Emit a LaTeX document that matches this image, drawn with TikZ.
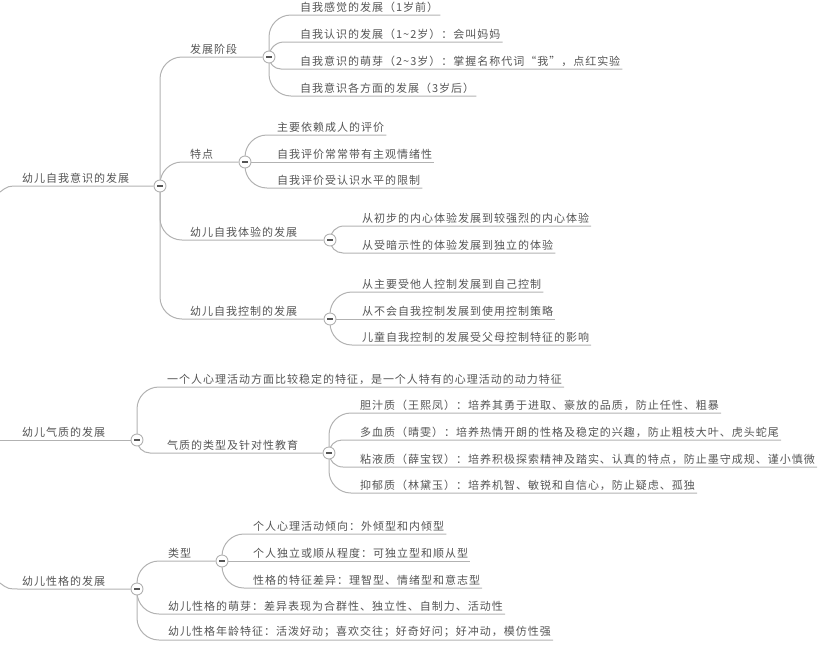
\documentclass[tikz,border=0pt]{standalone}
\usepackage{fontspec}
\newfontfamily\cjk[LetterSpace=9]{Noto Sans CJK SC}
\usetikzlibrary{backgrounds,calc}
\definecolor{linegray}{RGB}{178,178,178}
\definecolor{textgray}{RGB}{85,85,85}

\begin{document}
\begin{tikzpicture}[x=1pt,y=-1pt,
    topic/.style={anchor=south west,inner xsep=2pt,inner ysep=2.5pt,text=textgray,font=\cjk\fontsize{11}{13}\selectfont},
    fold/.style={circle,draw=linegray,fill=white,line width=0.9pt,minimum size=12pt,inner sep=0pt,
      path picture={\draw[textgray,line width=1.3pt] ([xshift=-3pt]path picture bounding box.center) -- ([xshift=3pt]path picture bounding box.center);}},
    line/.style={draw=linegray,line width=1pt},
    branch/.style={to path={let \p1=(\tikztostart), \p2=(\tikztotarget), \n1={min(abs(\y2-\y1),22pt)} in (\p1) [rounded corners=\n1] |- (\tikztotarget)}}]
          \useasboundingbox (0,0) rectangle (820,646);
          % 幼儿自我意识的发展
          \node[topic] (t1) at (20,186) {幼儿自我意识的发展};
          \node[fold] (r1) at (160,186) {};
          \node[topic] (t11) at (188,57) {发展阶段};
          \node[fold] (m11) at (269,57) {};
          \node[topic] (a1) at (298,15) {自我感觉的发展（1岁前）};
          \node[topic] (a2) at (298,42) {自我认识的发展（1\textasciitilde 2岁）：会叫妈妈};
          \node[topic] (a3) at (298,69) {自我意识的萌芽（2\textasciitilde 3岁）：掌握名称代词“我”，点红实验};
          \node[topic] (a4) at (298,96) {自我意识各方面的发展（3岁后）};
          \node[topic] (t12) at (188,162) {特点};
          \node[fold] (m12) at (245,162) {};
          \node[topic] (b1) at (275,135) {主要依赖成人的评价};
          \node[topic] (b2) at (275,162) {自我评价常常带有主观情绪性};
          \node[topic] (b3) at (275,188) {自我评价受认识水平的限制};
          \node[topic] (t13) at (188,240) {幼儿自我体验的发展};
          \node[fold] (m13) at (330,240) {};
          \node[topic] (c1) at (360,226) {从初步的内心体验发展到较强烈的内心体验};
          \node[topic] (c2) at (360,253) {从受暗示性的体验发展到独立的体验};
          \node[topic] (t14) at (188,319) {幼儿自我控制的发展};
          \node[fold] (m14) at (330,319) {};
          \node[topic] (d1) at (360,292) {从主要受他人控制发展到自己控制};
          \node[topic] (d2) at (360,319) {从不会自我控制发展到使用控制策略};
          \node[topic] (d3) at (360,345) {儿童自我控制的发展受父母控制特征的影响};
          % 幼儿气质的发展
          \node[topic] (t2) at (20,440) {幼儿气质的发展};
          \node[fold] (r2) at (137,440) {};
          \node[topic] (t21) at (165,387) {一个人心理活动方面比较稳定的特征，是一个人特有的心理活动的动力特征};
          \node[topic] (t22) at (165,453) {气质的类型及针对性教育};
          \node[fold] (m22) at (329,453) {};
          \node[topic] (e1) at (358,413) {胆汁质（王熙凤）：培养其勇于进取、豪放的品质，防止任性、粗暴};
          \node[topic] (e2) at (358,440) {多血质（晴雯）：培养热情开朗的性格及稳定的兴趣，防止粗枝大叶、虎头蛇尾};
          \node[topic] (e3) at (358,467) {粘液质（薛宝钗）：培养积极探索精神及踏实、认真的特点，防止墨守成规、谨小慎微};
          \node[topic] (e4) at (358,493) {抑郁质（林黛玉）：培养机智、敏锐和自信心，防止疑虑、孤独};
          % 幼儿性格的发展
          \node[topic] (t3) at (20,589) {幼儿性格的发展};
          \node[fold] (r3) at (137,589) {};
          \node[topic] (t31) at (166,561) {类型};
          \node[fold] (m31) at (222,561) {};
          \node[topic] (f1) at (251,534) {个人心理活动倾向：外倾型和内倾型};
          \node[topic] (f2) at (251,561) {个人独立或顺从程度：可独立型和顺从型};
          \node[topic] (f3) at (251,588) {性格的特征差异：理智型、情绪型和意志型};
          \node[topic] (t32) at (166,614) {幼儿性格的萌芽：差异表现为合群性、独立性、自制力、活动性};
          \node[topic] (t33) at (166,640) {幼儿性格年龄特征：活泼好动；喜欢交往；好奇好问；好冲动，模仿性强};
          \coordinate (o1) at (0,192);
          \coordinate (o2) at (0,440);
          \coordinate (o3) at (0,583);
          \begin{scope}[on background layer]
          \draw[line] (o1) .. controls (8,186) .. (t1.south west) -- (r1);
          \draw[line] (o2) -- (r2);
          \draw[line] (o3) .. controls (8,589) .. (t3.south west) -- (r3);
          \foreach \k in {m11,m12,m13,m14}
          {
          \draw[line] (r1) to[branch] (\k);
          }
          \foreach \leaf in {a1,a2,a3,a4}
          \draw[line] (m11) to[branch] (\leaf.south east);
          \foreach \leaf in {b1,b2,b3}
          \draw[line] (m12) to[branch] (\leaf.south east);
          \foreach \leaf in {c1,c2}
          \draw[line] (m13) to[branch] (\leaf.south east);
          \foreach \leaf in {d1,d2,d3}
          \draw[line] (m14) to[branch] (\leaf.south east);
          \draw[line] (r2) to[branch] (t21.south east);
          \draw[line] (r2) to[branch] (m22);
          \foreach \leaf in {e1,e2,e3,e4}
          \draw[line] (m22) to[branch] (\leaf.south east);
          \draw[line] (r3) to[branch] (m31);
          \draw[line] (r3) to[branch] (t32.south east);
          \draw[line] (r3) to[branch] (t33.south east);
          \foreach \leaf in {f1,f2,f3}
          \draw[line] (m31) to[branch] (\leaf.south east);
          \end{scope}
        \end{tikzpicture}
\end{document}
